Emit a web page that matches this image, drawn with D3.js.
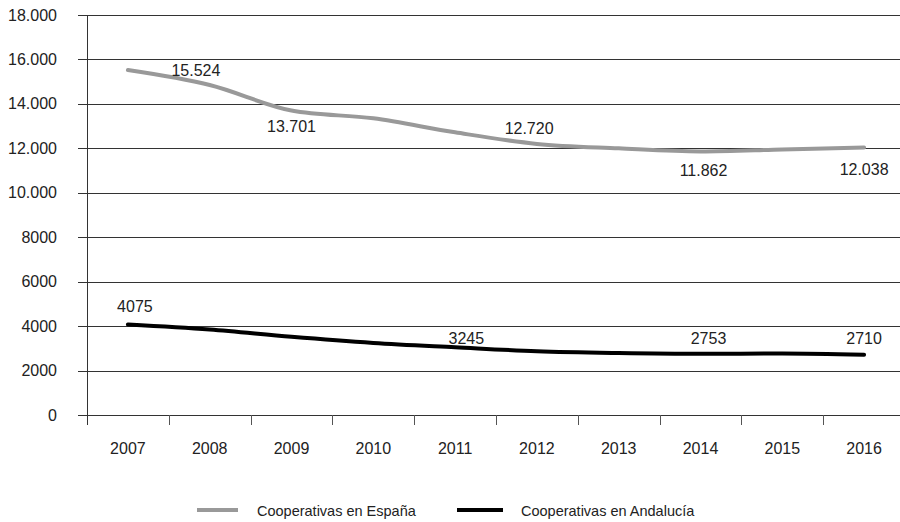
<!DOCTYPE html>
<html>
<head>
<meta charset="utf-8">
<script src="https://cdn.jsdelivr.net/npm/d3@7"></script>
<style>
  html, body { margin: 0; padding: 0; background: #fff; }
  svg { display: block; font-family: "Liberation Sans", Arial, Helvetica, sans-serif; }
</style>
</head>
<body>
<svg id="chart" width="900" height="522"></svg>
<script>
// Número de cooperativas, 2007-2016
const years = ["2007", "2008", "2009", "2010", "2011", "2012", "2013", "2014", "2015", "2016"];
const espana = [15524, 14850, 13701, 13350, 12720, 12200, 12000, 11862, 11950, 12038];
const andalucia = [4075, 3850, 3520, 3245, 3050, 2870, 2790, 2753, 2770, 2710];
const yTicks = [0, 2000, 4000, 6000, 8000, 10000, 12000, 14000, 16000, 18000];
const seriesNames = ["Cooperativas en España", "Cooperativas en Andalucía"];

// Which points carry a value label (series index, year index)
const labelled = [
  [0, 0], [0, 2], [0, 4], [0, 7], [0, 9],
  [1, 0], [1, 3], [1, 7], [1, 9]
];
// Label offsets from their point, in pixels
const labelOffsets = [
  [68, 6], [0, 21], [74, 2], [3, 25], [0, 28],
  [7, -12], [93, 1], [8, -10], [0, -11]
];

const svg = d3.select("#chart");
const plotLeft = 87, plotRight = 905, plotTop = 15, plotBottom = 415;

const x = d3.scaleBand().domain(years).range([plotLeft, plotRight]);
const y = d3.scaleLinear().domain([0, 18000]).range([plotBottom, plotTop]);

const es = d3.formatLocale({ decimal: ",", thousands: ".", grouping: [3], currency: ["", "€"] });
const fmtBig = es.format(",d");
const fmt = v => (v >= 10000 ? fmtBig(v) : String(v));

// Horizontal gridlines with outward ticks on the left
svg.append("g")
  .selectAll("line")
  .data(yTicks)
  .join("line")
  .attr("x1", plotLeft - 9)
  .attr("x2", 900)
  .attr("y1", d => Math.round(y(d)) + 0.5)
  .attr("y2", d => Math.round(y(d)) + 0.5)
  .attr("stroke", "#333")
  .attr("stroke-width", 1);

// Y axis labels
svg.append("g")
  .selectAll("text")
  .data(yTicks)
  .join("text")
  .attr("x", 57)
  .attr("y", d => y(d))
  .attr("dy", "0.35em")
  .attr("text-anchor", "end")
  .attr("font-size", 16)
  .attr("fill", "#222")
  .text(fmt);

// Vertical axis line
svg.append("line")
  .attr("x1", plotLeft + 0.5).attr("x2", plotLeft + 0.5)
  .attr("y1", plotTop).attr("y2", plotBottom + 10)
  .attr("stroke", "#333");

// X axis: ticks at band boundaries, labels at band centres
const xAxis = d3.axisBottom(x).tickSize(0).tickPadding(0);
const gx = svg.append("g").attr("transform", `translate(0,${plotBottom})`).call(xAxis);
gx.select(".domain").remove();
gx.selectAll("text")
  .attr("font-family", "Liberation Sans, Arial, sans-serif")
  .attr("font-size", 16)
  .attr("fill", "#222")
  .attr("y", 28);
svg.append("g")
  .selectAll("line")
  .data(years.slice(1))
  .join("line")
  .attr("x1", d => Math.round(x(d)) + 0.5)
  .attr("x2", d => Math.round(x(d)) + 0.5)
  .attr("y1", plotBottom)
  .attr("y2", plotBottom + 10)
  .attr("stroke", "#555");

// Lines
const cx = i => x(years[i]) + x.bandwidth() / 2;
const line = d3.line()
  .x((d, i) => cx(i))
  .y(d => y(d))
  .curve(d3.curveMonotoneX);

const series = [espana, andalucia];
const colors = ["#999999", "#000000"];

svg.append("g")
  .selectAll("path")
  .data(series)
  .join("path")
  .attr("d", d => line(d))
  .attr("fill", "none")
  .attr("stroke", (d, i) => colors[i])
  .attr("stroke-width", 4)
  .attr("stroke-linecap", "round")
  .attr("stroke-linejoin", "round");

// Value labels
svg.append("g")
  .selectAll("text")
  .data(labelled)
  .join("text")
  .attr("x", (d, k) => cx(d[1]) + labelOffsets[k][0])
  .attr("y", (d, k) => y(series[d[0]][d[1]]) + labelOffsets[k][1])
  .attr("text-anchor", "middle")
  .attr("font-size", 16)
  .attr("fill", "#222")
  .text(d => fmt(series[d[0]][d[1]]));

// Legend
const legendItems = [
  { x1: 197, x2: 238, tx: 257 },
  { x1: 457, x2: 503, tx: 521 }
];
const lg = svg.append("g");
legendItems.forEach((it, i) => {
  lg.append("line")
    .attr("x1", it.x1).attr("x2", it.x2)
    .attr("y1", 510).attr("y2", 510)
    .attr("stroke", colors[i])
    .attr("stroke-width", 4);
  lg.append("text")
    .attr("x", it.tx)
    .attr("y", 516)
    .attr("font-size", 14.5)
    .attr("fill", "#222")
    .text(seriesNames[i]);
});
</script>
</body>
</html>
